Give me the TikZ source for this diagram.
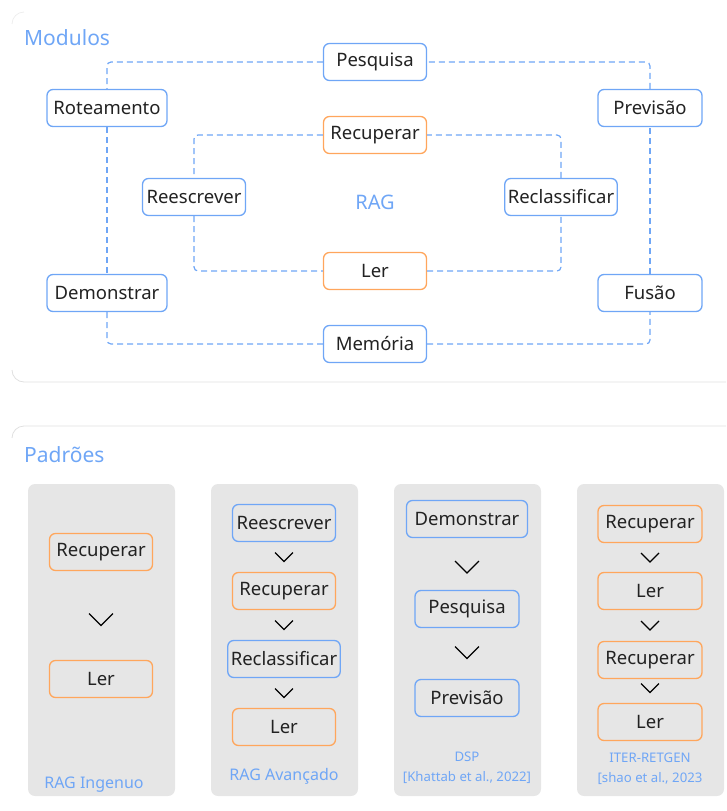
\documentclass[tikz,border=0pt]{standalone}
\usepackage{fontspec}
\setmainfont{Noto Sans}
\usetikzlibrary{calc}
\definecolor{mblue}{HTML}{6FA6F6}
\definecolor{morange}{HTML}{FFA65C}
\definecolor{mtext}{HTML}{222222}
\definecolor{mpanel}{HTML}{E6E6E6}
\definecolor{mrule}{HTML}{E0E0E0}
\definecolor{mfaint}{HTML}{EEEEEE}
\tikzset{
  box/.style={draw, rounded corners=6pt, line width=1.3pt, text=mtext,
    minimum height=37pt, minimum width=103pt, inner xsep=3pt, inner ysep=0pt,
    font=\fontsize{18.5}{22}\selectfont},
  bluebox/.style={box, draw=mblue, fill=white},
  orangebox/.style={box, draw=morange, fill=white},
  pbluebox/.style={box, draw=mblue},
  porangebox/.style={box, draw=morange},
  link/.style={draw=mblue, line width=1.2pt, dash pattern=on 6pt off 4pt, rounded corners=4pt},
  title/.style={text=mblue, anchor=west, inner sep=0pt, font=\fontsize{21}{24}\selectfont},
  caption/.style={text=mblue, inner sep=0pt, align=center},
  panel/.style={fill=mpanel, rounded corners=7pt},
  chev/.style={draw=black, line width=1.3pt},
}
\begin{document}
\begin{tikzpicture}[x=1pt,y=-1pt]
\useasboundingbox (0,0) rectangle (726,811);

% section frames (y axis points down)
\draw[mfaint, line width=0.8pt] (12,24) arc[start angle=180, end angle=270, radius=12];
\draw[mrule, line width=0.8pt] (12,370) arc[start angle=180, end angle=90, radius=12] -- (726,382);
\draw[mrule, line width=0.8pt] (12,438) arc[start angle=180, end angle=270, radius=12] -- (726,426);

% ---------- Modulos ----------
\node[title] (tmod) at (24,38) {Modulos};

\node[bluebox] (pes) at (375,62) {Pesquisa};
\node[bluebox, minimum width=120pt] (rot) at (107,108) {Roteamento};
\node[bluebox, minimum width=104pt] (prev) at (650,108) {Previsão};
\node[orangebox] (rec) at (375,135) {Recuperar};
\node[bluebox] (rees) at (194,197) {Reescrever};
\node[bluebox, minimum width=112pt] (recl) at (561,197) {Reclassificar};
\node[text=mblue, font=\fontsize{20}{24}\selectfont] (rag) at (375,202) {RAG};
\node[orangebox] (ler) at (375,271) {Ler};
\node[bluebox, minimum width=120pt] (dem) at (107,293) {Demonstrar};
\node[bluebox, minimum width=104pt] (fus) at (650,293) {Fusão};
\node[bluebox] (mem) at (375,344) {Memória};

% outer ring
\draw[link] (pes.west) -| (rot.north);
\draw[link] (rot.south) -- (dem.north);
\draw[link] (dem.south) |- (mem.west);
\draw[link] (mem.east) -| (fus.south);
\draw[link] (fus.north) -- (prev.south);
\draw[link] (prev.north) |- (pes.east);
% inner ring
\draw[link] (rec.west) -| (rees.north);
\draw[link] (rees.south) |- (ler.west);
\draw[link] (ler.east) -| (recl.south);
\draw[link] (recl.north) |- (rec.east);

% ---------- Padroes ----------
\node[title] (tpad) at (24,455) {Padrões};

\fill[panel] (28,484) rectangle (175,796);
\fill[panel] (211,484) rectangle (358,796);
\fill[panel] (394,484) rectangle (541,796);
\fill[panel] (577,484) rectangle (724,796);

% RAG Ingenuo
\node[porangebox] (a1) at (101,552) {Recuperar};
\node[porangebox] (a2) at (101,679) {Ler};
\node[caption, font=\fontsize{16}{19}\selectfont] (ca) at (94,785) {RAG Ingenuo};

% RAG Avancado
\node[pbluebox] (b1) at (284,523) {Reescrever};
\node[porangebox] (b2) at (284,591) {Recuperar};
\node[pbluebox, minimum width=112pt] (b3) at (284,659) {Reclassificar};
\node[porangebox] (b4) at (284,727) {Ler};
\node[caption, font=\fontsize{16}{19}\selectfont] (cb) at (284,776) {RAG Avançado};

% DSP
\node[pbluebox, minimum width=121pt] (c1) at (467,519) {Demonstrar};
\node[pbluebox, minimum width=104pt] (c2) at (467,609) {Pesquisa};
\node[pbluebox, minimum width=104pt] (c3) at (467,698) {Previsão};
\node[caption, font=\fontsize{13.2}{20}\selectfont] (cc) at (467,768) {DSP\\{[}Khattab et al., 2022{]}};

% ITER-RETGEN
\node[porangebox, minimum width=104pt] (d1) at (650,524) {Recuperar};
\node[porangebox, minimum width=104pt] (d2) at (650,591) {Ler};
\node[porangebox, minimum width=104pt] (d3) at (650,660) {Recuperar};
\node[porangebox, minimum width=104pt] (d4) at (650,722) {Ler};
\node[caption, font=\fontsize{13.2}{20}\selectfont] (cd) at (650,769) {ITER-RETGEN\\{[}shao et al., 2023};

% step chevrons between consecutive boxes
\foreach \u/\v/\w/\dy in {a1/a2/12/4, c1/c2/12/3, c2/c3/12/-1,
    b1/b2/9/0, b2/b3/9/0, b3/b4/9/0, d1/d2/9/0, d2/d3/9/0, d3/d4/9/-3} {
  \coordinate (m) at ($(\u.south)!0.5!(\v.north)$);
  \draw[chev] ($(m)+(-\w,\dy-\w/2)$) -- ($(m)+(0,\dy+\w/2)$) -- ($(m)+(\w,\dy-\w/2)$);
}
\end{tikzpicture}
\end{document}
